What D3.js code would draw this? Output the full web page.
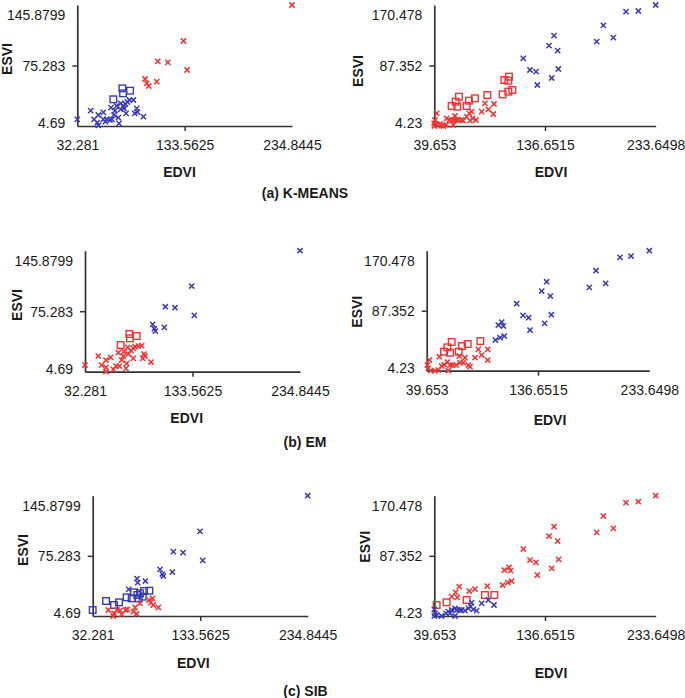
<!DOCTYPE html>
<html>
<head>
<meta charset="utf-8">
<script src="https://cdn.jsdelivr.net/npm/d3@7"></script>
<style>
  body { margin: 0; background: #fff; }
  text { font-family: 'Liberation Sans', Arial, Helvetica, sans-serif; }
</style>
</head>
<body>
<svg id="chart" width="685" height="698"></svg>
<script>
// tick values / labels of the two datasets
const leftXTicks = [32.281, 133.5625, 234.8445];
const leftXLabels = ['32.281', '133.5625', '234.8445'];
const leftYTicks = [4.69, 75.283, 145.8799];
const leftYLabels = ['4.69', '75.283', '145.8799'];
const rightXTicks = [39.653, 136.6515, 233.6498];
const rightXLabels = ['39.653', '136.6515', '233.6498'];
const rightYTicks = [4.23, 87.352, 170.478];
const rightYLabels = ['4.23', '87.352', '170.478'];

const captions = ['(a) K-MEANS', '(b) EM', '(c) SIB'];

// [EDVI, ESVI] points, per panel and per cluster marker
const kmLeftBlueX = [[32.28,12.47],[44.88,22.58],[52.13,17.53],[56.85,20.64],[48.03,12.47],[51.18,8.58],[52.13,5.47],[58.74,9.75],[60.0,12.47],[63.15,11.69],[65.04,12.47],[71.66,7.8],[71.03,14.41],[64.1,26.08],[67.88,22.58],[69.45,28.03],[73.23,31.14],[75.75,28.03],[77.64,30.36],[79.53,32.69],[81.42,35.03],[85.2,35.03],[78.27,19.47],[73.23,24.14],[86.46,19.47],[88.35,25.3],[88.98,21.03],[94.65,15.58],[66.93,17.53],[56.85,12.47],[76.38,25.3]];
const kmLeftBlueSq = [[74.81,48.64],[82.06,45.92],[75.44,42.81],[66.3,35.81]];
const kmLeftRedX = [[234.84,145.88],[132.46,103.87],[108.2,80.15],[117.65,78.98],[135.93,70.04],[96.23,59.53],[107.26,56.42],[97.8,54.48],[99.69,51.36]];

const kmRightBlueX = [[233.65,170.48],[218.45,162.23],[207.64,161.32],[187.78,142.54],[181.94,120.1],[196.54,125.59],[144.54,128.34],[140.16,114.6],[147.75,107.73],[117.66,97.2],[123.5,81.17],[128.76,78.88],[148.34,82.55],[142.5,70.18],[129.93,60.56]];
const kmRightRedSq = [[105.1,72.01],[101.01,67.43],[104.52,66.52],[108.02,53.69],[104.52,51.4],[99.55,47.74],[86.11,46.82],[75.3,42.24],[70.04,39.04],[61.27,44.53],[58.35,37.66],[54.85,31.71],[59.81,30.79],[67.99,31.71]];
const kmRightRedX = [[41.7,21.63],[40.24,12.47],[39.65,7.89],[41.7,6.98],[39.65,4.23],[46.08,4.69],[49.88,5.6],[52.8,12.47],[54.85,11.56],[56.31,12.47],[58.65,12.47],[60.69,12.47],[63.61,12.47],[65.07,11.56],[57.77,17.97],[56.31,5.6],[67.99,17.05],[70.33,21.63],[70.92,11.56],[73.25,14.76],[76.18,12.47],[72.38,23.92],[81.14,23.92],[84.06,35.37],[86.99,27.13],[91.95,34.46],[91.37,20.72],[50.46,14.76],[47.54,4.23],[44.62,6.98]];

const emLeftBlueX = [[234.84,145.88],[132.78,104.65],[107.97,80.54],[117.07,79.37],[135.29,70.42],[96.03,59.92],[107.03,56.42],[97.6,54.87],[98.54,52.14]];
const emLeftRedSq = [[74.05,48.64],[80.96,46.31],[74.68,43.59],[65.88,35.81]];
const emLeftRedX = [[32.28,12.47],[44.84,22.97],[52.07,18.3],[56.46,21.41],[47.98,12.47],[52.07,9.75],[52.07,4.69],[58.97,7.41],[61.49,11.3],[64.63,11.3],[70.91,8.58],[71.54,14.41],[63.69,26.86],[68.39,22.97],[69.02,28.03],[72.48,33.08],[75.62,29.2],[77.82,31.92],[79.39,33.86],[82.53,34.64],[85.67,35.03],[77.82,20.25],[73.11,25.3],[86.61,20.25],[87.87,25.3],[88.81,22.97],[94.46,15.97],[66.83,18.3]];

const emRightBlueX = [[233.65,170.48],[217.68,163.09],[208.1,161.24],[187.18,142.77],[181.37,119.68],[195.6,125.22],[144.2,127.53],[139.85,114.6],[147.4,107.67],[118.07,97.05],[123.58,80.89],[128.52,77.66],[148.27,81.81],[142.46,69.81],[129.68,60.57],[102.09,67.5],[105.0,71.65],[106.45,66.11],[99.48,46.72],[103.54,49.95],[107.32,52.26]];
const emRightRedSq = [[61.43,43.95],[57.66,36.56],[54.75,30.55],[59.98,29.17],[67.53,30.55],[70.44,38.4],[75.37,41.17],[86.41,45.33]];
const emRightRedX = [[41.98,19.01],[40.23,12.08],[41.1,7.46],[43.14,4.23],[46.91,4.23],[49.82,5.15],[50.69,23.63],[52.72,10.7],[54.75,12.54],[57.66,16.24],[59.98,12.08],[62.3,12.08],[65.21,12.08],[58.53,4.23],[68.11,24.55],[73.05,22.24],[71.6,15.31],[75.95,12.08],[77.41,9.77],[81.77,22.24],[84.67,33.79],[87.58,25.93],[92.8,33.79],[92.8,19.01],[68.69,15.31]];

const sibLeftBlueX = [[234.84,145.88],[133.41,104.04],[108.28,80.17],[117.39,79.0],[135.92,70.0],[95.72,59.45],[107.34,56.32],[97.92,53.97],[98.86,51.62],[74.05,48.49],[81.9,45.76],[74.68,43.8],[66.2,35.98]];
const sibLeftBlueSq = [[32.28,11.73],[44.84,22.29],[52.38,17.6],[57.09,20.72],[64.31,26.59],[69.02,25.42],[71.22,32.46],[74.36,29.33],[76.87,31.28],[80.64,34.02],[85.67,34.41],[79.39,27.37],[75.62,25.42]];
const sibLeftRedX = [[47.04,11.73],[51.75,4.69],[52.38,7.82],[58.03,10.95],[59.6,6.65],[63.37,11.73],[64.94,12.51],[70.59,9.77],[72.16,14.86],[73.73,7.04],[76.87,19.55],[86.92,20.33],[88.81,25.42],[89.44,17.6],[94.15,14.86],[85.36,23.46],[55.2,11.73]];

const sibRightRedX = [[233.65,170.48],[218.45,162.19],[207.64,160.8],[187.78,142.39],[181.94,119.81],[196.54,125.34],[144.54,127.65],[140.16,114.75],[147.75,107.84],[117.66,96.79],[123.5,81.59],[128.76,78.37],[148.63,82.52],[142.5,70.08],[129.93,60.87],[101.01,67.78],[105.1,71.46],[106.56,66.86],[99.55,47.06],[103.93,50.28],[107.44,52.58],[86.11,45.68],[75.3,41.53],[70.33,38.77],[61.57,44.75],[58.35,36.93],[54.85,30.94],[59.81,30.02]];
const sibRightRedSq = [[41.7,19.43],[50.46,23.11],[67.99,26.33],[84.06,33.24],[92.24,33.24]];
const sibRightBlueX = [[39.65,13.44],[40.24,7.91],[41.7,5.61],[39.65,4.23],[46.08,4.23],[49.88,7.91],[51.92,10.22],[54.85,12.52],[57.77,14.82],[57.77,4.23],[59.23,12.52],[61.57,12.52],[63.61,12.52],[66.53,11.6],[69.45,14.82],[72.38,22.65],[71.5,17.12],[73.84,13.44],[76.76,11.6],[81.14,21.73],[86.99,26.33],[91.95,19.43],[53.39,7.91]];

const BLUE = '#3b3bb4';
const RED = '#ee3333';
const AXIS = '#333';

const left = { xTicks: leftXTicks, xLabels: leftXLabels, yTicks: leftYTicks, yLabels: leftYLabels };
const right = { xTicks: rightXTicks, xLabels: rightXLabels, yTicks: rightYTicks, yLabels: rightYLabels };

const panels = [
  { ...left, x0: 77.3, x1: 292, yb: 126, yt: 5, edvi: [179.5, 171.7], esvi: [7.2, 59],
    series: [{ d: kmLeftBlueSq, c: BLUE, s: 'sq' }, { d: kmLeftBlueX, c: BLUE, s: 'x' }, { d: kmLeftRedX, c: RED, s: 'x' }] },
  { ...right, x0: 434.3, x1: 655.7, yb: 126, yt: 5, edvi: [551, 171.7], esvi: [358.3, 71],
    series: [{ d: kmRightRedSq, c: RED, s: 'sq' }, { d: kmRightRedX, c: RED, s: 'x' }, { d: kmRightBlueX, c: BLUE, s: 'x' }] },
  { ...left, x0: 85, x1: 300, yb: 371.7, yt: 250.7, edvi: [186.7, 418.3], esvi: [16.7, 305],
    series: [{ d: emLeftRedSq, c: RED, s: 'sq' }, { d: emLeftRedX, c: RED, s: 'x' }, { d: emLeftBlueX, c: BLUE, s: 'x' }] },
  { ...right, x0: 426.7, x1: 649.3, yb: 370.7, yt: 250.7, edvi: [550, 420], esvi: [356.7, 311.7],
    series: [{ d: emRightRedSq, c: RED, s: 'sq' }, { d: emRightRedX, c: RED, s: 'x' }, { d: emRightBlueX, c: BLUE, s: 'x' }] },
  { ...left, x0: 92.7, x1: 307.7, yb: 616, yt: 495.7, edvi: [193.3, 663.3], esvi: [23.3, 550],
    series: [{ d: sibLeftBlueSq, c: BLUE, s: 'sq' }, { d: sibLeftRedX, c: RED, s: 'x' }, { d: sibLeftBlueX, c: BLUE, s: 'x' }] },
  { ...right, x0: 434.3, x1: 655.7, yb: 616, yt: 495.7, edvi: [551, 672.7], esvi: [365, 546.7],
    series: [{ d: sibRightRedSq, c: RED, s: 'sq' }, { d: sibRightBlueX, c: BLUE, s: 'x' }, { d: sibRightRedX, c: RED, s: 'x' }] },
];

const captionPos = [[305, 192.7], [305, 441.7], [305.5, 690.7]];

const svg = d3.select('#chart');
const crossR = 2.6;
const sqR = 3.3;

const drawPanel = (p) => {
  const x = d3.scaleLinear().domain([p.xTicks[0], p.xTicks[2]]).range([p.x0, p.x1]);
  const y = d3.scaleLinear().domain([p.yTicks[0], p.yTicks[2]]).range([p.yb, p.yt]);

  const xAxis = d3.axisBottom(x).tickValues(p.xTicks).tickSize(5).tickSizeOuter(0)
    .tickFormat((d, i) => p.xLabels[i]);
  const yAxis = d3.axisLeft(y).tickValues(p.yTicks).tickSize(5).tickSizeOuter(0)
    .tickFormat((d, i) => p.yLabels[i]);

  const gx = svg.append('g').attr('transform', `translate(0, ${p.yb})`).style('color', AXIS).call(xAxis);
  const gy = svg.append('g').attr('transform', `translate(${p.x0}, 0)`).style('color', AXIS).call(yAxis);

  [gx, gy].forEach((g) => {
    g.select('.domain').attr('stroke-width', 1.7);
    g.selectAll('.tick line').attr('stroke-width', 1.5).attr('opacity', (d, i) => (i === 1 ? 1 : 0));
    g.selectAll('.tick text').attr('fill', '#1a1a1a').style('font-size', '14px');
  });
  gx.selectAll('.tick text').attr('y', 19.5).attr('dy', '0.35em');
  const yShift = [-3, 0, 9.5];
  gy.selectAll('.tick text').attr('x', -12).attr('dy', '0.35em').attr('y', (d, i) => yShift[i]);

  svg.append('text')
    .attr('x', p.edvi[0]).attr('y', p.edvi[1]).attr('dy', '0.35em')
    .attr('text-anchor', 'middle').style('font-size', '14px').style('font-weight', 'bold')
    .attr('fill', '#1a1a1a').text('EDVI');
  svg.append('text')
    .attr('transform', `translate(${p.esvi[0]}, ${p.esvi[1]}) rotate(-90)`).attr('dy', '0.35em')
    .attr('text-anchor', 'middle').style('font-size', '14px').style('font-weight', 'bold')
    .attr('fill', '#1a1a1a').text('ESVI');

  const g = svg.append('g');
  p.series.forEach((s) => {
    if (s.s === 'sq') {
      g.selectAll(null).data(s.d).enter().append('rect')
        .attr('x', (d) => x(d[0]) - sqR).attr('y', (d) => y(d[1]) - sqR)
        .attr('width', sqR * 2).attr('height', sqR * 2)
        .attr('fill', 'none').attr('stroke', s.c).attr('stroke-width', 1.4);
    } else {
      g.selectAll(null).data(s.d).enter().append('path')
        .attr('transform', (d) => `translate(${x(d[0])}, ${y(d[1])})`)
        .attr('d', `M${-crossR},${-crossR}L${crossR},${crossR}M${-crossR},${crossR}L${crossR},${-crossR}`)
        .attr('fill', 'none').attr('stroke', s.c).attr('stroke-width', 1.5);
    }
  });
};

panels.forEach(drawPanel);

captions.forEach((c, i) => {
  svg.append('text')
    .attr('x', captionPos[i][0]).attr('y', captionPos[i][1]).attr('dy', '0.35em')
    .attr('text-anchor', 'middle').style('font-size', '14px').style('font-weight', 'bold')
    .attr('fill', '#1a1a1a').text(c);
});
</script>
</body>
</html>
